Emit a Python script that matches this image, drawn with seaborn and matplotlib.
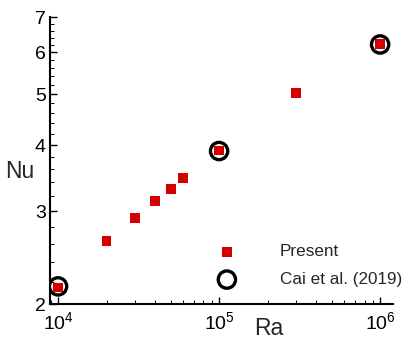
import numpy as np
import pandas as pd
import matplotlib
matplotlib.use("Agg")
import matplotlib.pyplot as plt
import matplotlib.ticker as mticker
import seaborn as sns

# ─── Data ────────────────────────────────────────────────────────────────────
ra_present = [1e4, 2e4, 3e4, 4e4, 5e4, 6e4, 1e5, 3e5, 1e6]
nu_present = [2.15, 2.63, 2.91, 3.13, 3.31, 3.47, 3.91, 5.03, 6.22]

ra_cai = [1e4, 1e5, 1e6]
nu_cai = [2.16, 3.90, 6.21]

y_major = [2, 3, 4, 5, 6, 7]

# ─── Style ───────────────────────────────────────────────────────────────────
sns.set_style("ticks")
plt.rcParams["font.family"] = ["Liberation Sans", "DejaVu Sans"]
plt.rcParams["mathtext.fontset"] = "custom"
plt.rcParams["mathtext.rm"] = "Liberation Sans"
plt.rcParams["mathtext.it"] = "Liberation Sans:italic"

fig = plt.figure(figsize=(4.15, 3.47), dpi=100)
ax = fig.add_axes([0.1205, 0.1239, 0.8265, 0.827])

df_p = pd.DataFrame({"Ra": ra_present, "Nu": nu_present})
df_c = pd.DataFrame({"Ra": ra_cai, "Nu": nu_cai})

sns.scatterplot(data=df_c, x="Ra", y="Nu", ax=ax, marker="o", s=155,
                facecolor="none", edgecolor="black", linewidth=2.4,
                label="Cai et al. (2019)", zorder=2)
sns.scatterplot(data=df_p, x="Ra", y="Nu", ax=ax, marker="s", s=50,
                color="#d40000", edgecolor="none", linewidth=0,
                label="Present", zorder=3)

ax.set_xscale("log")
ax.set_yscale("log")
ax.set_xlim(10 ** 3.95, 10 ** 6.08)
ax.set_ylim(2, 7)

# ── Ticks ────────────────────────────────────────────────────────────────────
ax.xaxis.set_major_locator(mticker.FixedLocator([1e4, 1e5, 1e6]))
ax.xaxis.set_major_formatter(mticker.FixedFormatter([r"$10^4$", r"$10^5$", r"$10^6$"]))
ax.xaxis.set_minor_locator(mticker.LogLocator(base=10, subs=np.arange(2, 10)))
ax.xaxis.set_minor_formatter(mticker.NullFormatter())

ax.yaxis.set_major_locator(mticker.FixedLocator(y_major))
ax.yaxis.set_major_formatter(mticker.FixedFormatter([str(v) for v in y_major]))
ax.yaxis.set_minor_locator(mticker.FixedLocator(np.arange(2.2, 7.0, 0.2)))
ax.yaxis.set_minor_formatter(mticker.NullFormatter())

ax.tick_params(which="both", direction="in", colors="black", width=1.0)
ax.tick_params(which="major", length=5, labelsize=14)
ax.tick_params(which="minor", length=3, width=0.7)
ax.tick_params(axis="x", which="major", pad=5)
ax.tick_params(axis="y", which="major", pad=3)

for side in ["top", "right"]:
    ax.spines[side].set_visible(False)
for side in ["left", "bottom"]:
    ax.spines[side].set_linewidth(1.5)
    ax.spines[side].set_color("black")

ax.set_xlabel("Ra", fontsize=16.5, va="center", ha="center")
ax.set_ylabel("Nu", fontsize=16.5, rotation=0, va="center", ha="center")
ax.yaxis.set_label_coords(-0.089, 0.463)
ax.xaxis.set_label_coords(0.638, -0.084)

# ── Legend ───────────────────────────────────────────────────────────────────
h, l = ax.get_legend_handles_labels()
ax.legend([h[1], h[0]], [l[1], l[0]], loc="upper left",
          bbox_to_anchor=(0.441, 0.238), frameon=False, fontsize=12.3,
          handletextpad=2.1, labelspacing=0.75, borderpad=0)

fig.savefig("out.png", dpi=100)
